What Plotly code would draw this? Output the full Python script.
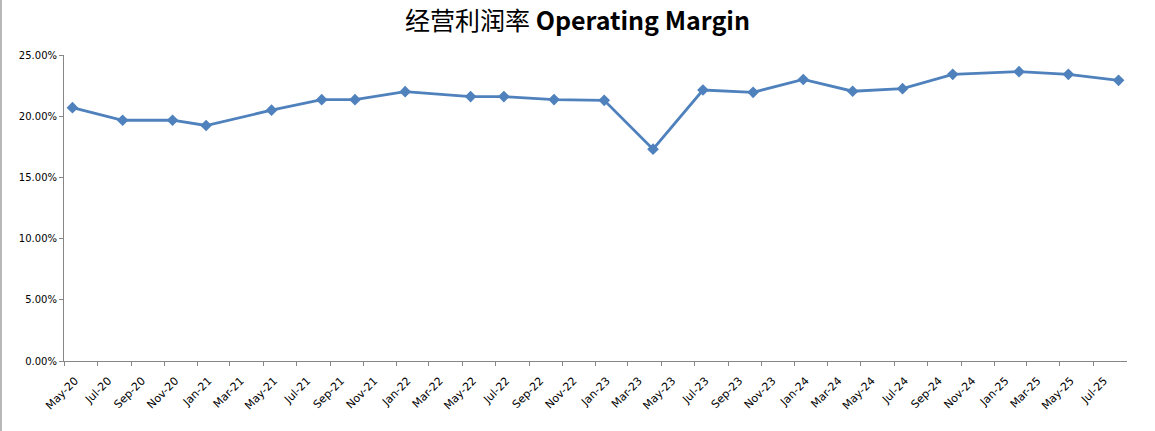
import plotly.graph_objects as go
import pandas as pd

# Data (month of observation, operating margin in %)
months = ["2020-05", "2020-08", "2020-11", "2021-01", "2021-05", "2021-08", "2021-10",
          "2022-01", "2022-05", "2022-07", "2022-10", "2023-01", "2023-04", "2023-07",
          "2023-10", "2024-01", "2024-04", "2024-07", "2024-10", "2025-02", "2025-05",
          "2025-08"]
margin_pct = [20.70, 19.67, 19.67, 19.24, 20.49, 21.35, 21.35,
              22.00, 21.60, 21.60, 21.36, 21.30, 17.31, 22.14,
              21.95, 23.00, 22.04, 22.25, 23.42, 23.64, 23.42,
              22.93]
y_ticks = [0, 5, 10, 15, 20, 25]
x_tick_months = pd.date_range("2020-05-01", "2025-07-01", freq="2MS")

# place each point at the middle of its month (Excel date axis, base unit = month)
starts = pd.to_datetime(months, format="%Y-%m")
mids = starts + (starts + pd.offsets.MonthBegin(1) - starts) / 2

blue = "#4F81BD"
axis_col = "#868686"

fig = go.Figure()
fig.add_trace(go.Scatter(
    x=mids, y=[v / 100 for v in margin_pct],
    mode="lines+markers",
    line=dict(color=blue, width=2.8),
    marker=dict(symbol="diamond", size=9, color=blue),
    showlegend=False,
    hoverinfo="skip",
))

y_tick_font = dict(family="'DejaVu Sans', Verdana, sans-serif", size=10, color="#000000")
x_tick_font = dict(family="'DejaVu Sans', Verdana, sans-serif", size=11, color="#000000")

fig.update_layout(
    width=1155, height=431,
    margin=dict(l=64, r=28, t=55, b=70, autoexpand=False),
    paper_bgcolor="white", plot_bgcolor="white",
    title=dict(
        text="经营利润率 <b>Operating Margin</b>",
        x=0.5, xanchor="center", y=0.95, yanchor="middle",
        xref="container",
        font=dict(family="'Noto Sans CJK SC', 'Open Sans', sans-serif", size=25, color="#000000"),
    ),
    xaxis=dict(
        type="date",
        range=["2020-05-01", "2025-09-01"],
        tickvals=list(x_tick_months),
        ticktext=[d.strftime("%b-%y") for d in x_tick_months],
        tickangle=-45,
        ticklabelshift=11,
        ticklabelstandoff=4,
        ticks="outside", ticklen=4, tickcolor=axis_col,
        showline=True, linecolor=axis_col, linewidth=1,
        showgrid=False, zeroline=False,
        tickfont=x_tick_font,
        fixedrange=True,
        automargin=False,
    ),
    yaxis=dict(
        range=[0, 0.25],
        tickvals=[v / 100 for v in y_ticks],
        tickformat=".2%",
        ticks="outside", ticklen=4, tickcolor=axis_col,
        showline=True, linecolor=axis_col, linewidth=1,
        showgrid=False, zeroline=False,
        tickfont=y_tick_font,
        fixedrange=True,
        automargin=False,
    ),
    shapes=[dict(type="line", xref="paper", yref="paper",
                 x0=-63 / 1063, x1=-63 / 1063, y0=-70 / 306, y1=1 + 55 / 306,
                 line=dict(color="#A0A0A0", width=1.5))],
)

fig.write_html("out.html", config={"displayModeBar": False},
               post_script="document.body.style.margin='0';")
